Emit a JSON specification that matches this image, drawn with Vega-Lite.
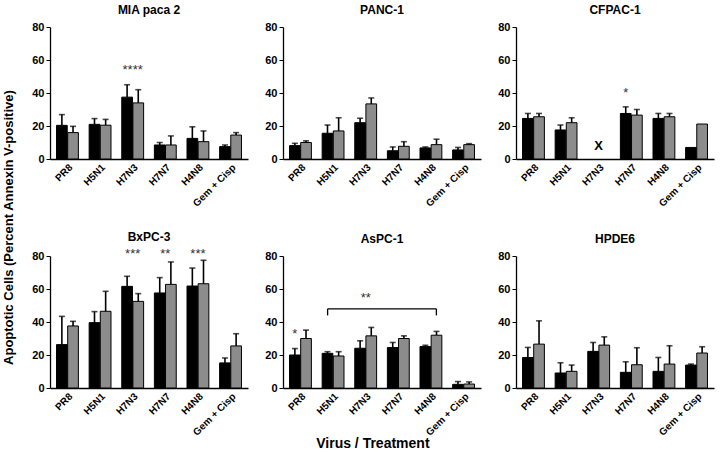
{
  "$schema": "https://vega.github.io/schema/vega-lite/v6.json",
  "datasets": {
    "main": [
      {"kind":"bar","cell":"MIA paca 2","treatment":"PR8","series":"A","mean":20.4,"upper":26.9},
      {"kind":"bar","cell":"MIA paca 2","treatment":"PR8","series":"B","mean":16,"upper":19.8},
      {"kind":"bar","cell":"MIA paca 2","treatment":"H5N1","series":"A","mean":21,"upper":24.5},
      {"kind":"bar","cell":"MIA paca 2","treatment":"H5N1","series":"B","mean":20.5,"upper":24},
      {"kind":"bar","cell":"MIA paca 2","treatment":"H7N3","series":"A","mean":37.5,"upper":45},
      {"kind":"bar","cell":"MIA paca 2","treatment":"H7N3","series":"B","mean":34,"upper":42},
      {"kind":"bar","cell":"MIA paca 2","treatment":"H7N7","series":"A","mean":8.5,"upper":10},
      {"kind":"bar","cell":"MIA paca 2","treatment":"H7N7","series":"B","mean":8.5,"upper":14},
      {"kind":"bar","cell":"MIA paca 2","treatment":"H4N8","series":"A","mean":12.5,"upper":19.5},
      {"kind":"bar","cell":"MIA paca 2","treatment":"H4N8","series":"B","mean":10.5,"upper":17},
      {"kind":"bar","cell":"MIA paca 2","treatment":"Gem + Cisp","series":"A","mean":7.5,"upper":8.5},
      {"kind":"bar","cell":"MIA paca 2","treatment":"Gem + Cisp","series":"B","mean":14.5,"upper":16},

      {"kind":"bar","cell":"PANC-1","treatment":"PR8","series":"A","mean":8.1,"upper":9.5},
      {"kind":"bar","cell":"PANC-1","treatment":"PR8","series":"B","mean":10,"upper":11},
      {"kind":"bar","cell":"PANC-1","treatment":"H5N1","series":"A","mean":15.6,"upper":20.6},
      {"kind":"bar","cell":"PANC-1","treatment":"H5N1","series":"B","mean":17,"upper":25},
      {"kind":"bar","cell":"PANC-1","treatment":"H7N3","series":"A","mean":22,"upper":24.7},
      {"kind":"bar","cell":"PANC-1","treatment":"H7N3","series":"B","mean":33.4,"upper":37},
      {"kind":"bar","cell":"PANC-1","treatment":"H7N7","series":"A","mean":5,"upper":7.3},
      {"kind":"bar","cell":"PANC-1","treatment":"H7N7","series":"B","mean":7.7,"upper":10.5},
      {"kind":"bar","cell":"PANC-1","treatment":"H4N8","series":"A","mean":6.7,"upper":7.3},
      {"kind":"bar","cell":"PANC-1","treatment":"H4N8","series":"B","mean":8.7,"upper":12},
      {"kind":"bar","cell":"PANC-1","treatment":"Gem + Cisp","series":"A","mean":5.5,"upper":7},
      {"kind":"bar","cell":"PANC-1","treatment":"Gem + Cisp","series":"B","mean":8.7,"upper":9.3},

      {"kind":"bar","cell":"CFPAC-1","treatment":"PR8","series":"A","mean":24.6,"upper":27.6},
      {"kind":"bar","cell":"CFPAC-1","treatment":"PR8","series":"B","mean":25.6,"upper":27.6},
      {"kind":"bar","cell":"CFPAC-1","treatment":"H5N1","series":"A","mean":17.6,"upper":20.6},
      {"kind":"bar","cell":"CFPAC-1","treatment":"H5N1","series":"B","mean":22,"upper":25},
      {"kind":"bar","cell":"CFPAC-1","treatment":"H7N7","series":"A","mean":27.6,"upper":31.6},
      {"kind":"bar","cell":"CFPAC-1","treatment":"H7N7","series":"B","mean":26.6,"upper":30},
      {"kind":"bar","cell":"CFPAC-1","treatment":"H4N8","series":"A","mean":24.6,"upper":27.6},
      {"kind":"bar","cell":"CFPAC-1","treatment":"H4N8","series":"B","mean":25.6,"upper":27.6},
      {"kind":"bar","cell":"CFPAC-1","treatment":"Gem + Cisp","series":"A","mean":7,"upper":null},
      {"kind":"bar","cell":"CFPAC-1","treatment":"Gem + Cisp","series":"B","mean":21.2,"upper":null},

      {"kind":"bar","cell":"BxPC-3","treatment":"PR8","series":"A","mean":26.3,"upper":43.4},
      {"kind":"bar","cell":"BxPC-3","treatment":"PR8","series":"B","mean":37.6,"upper":40.4},
      {"kind":"bar","cell":"BxPC-3","treatment":"H5N1","series":"A","mean":39.6,"upper":46.3},
      {"kind":"bar","cell":"BxPC-3","treatment":"H5N1","series":"B","mean":46.5,"upper":58.6},
      {"kind":"bar","cell":"BxPC-3","treatment":"H7N3","series":"A","mean":61.6,"upper":67.7},
      {"kind":"bar","cell":"BxPC-3","treatment":"H7N3","series":"B","mean":52.5,"upper":57.2},
      {"kind":"bar","cell":"BxPC-3","treatment":"H7N7","series":"A","mean":57.6,"upper":66.9},
      {"kind":"bar","cell":"BxPC-3","treatment":"H7N7","series":"B","mean":62.8,"upper":76.4},
      {"kind":"bar","cell":"BxPC-3","treatment":"H4N8","series":"A","mean":61.8,"upper":72.7},
      {"kind":"bar","cell":"BxPC-3","treatment":"H4N8","series":"B","mean":63.2,"upper":77.4},
      {"kind":"bar","cell":"BxPC-3","treatment":"Gem + Cisp","series":"A","mean":15.2,"upper":18.2},
      {"kind":"bar","cell":"BxPC-3","treatment":"Gem + Cisp","series":"B","mean":25.5,"upper":32.9},

      {"kind":"bar","cell":"AsPC-1","treatment":"PR8","series":"A","mean":20,"upper":23.9},
      {"kind":"bar","cell":"AsPC-1","treatment":"PR8","series":"B","mean":30,"upper":35.1},
      {"kind":"bar","cell":"AsPC-1","treatment":"H5N1","series":"A","mean":21,"upper":22},
      {"kind":"bar","cell":"AsPC-1","treatment":"H5N1","series":"B","mean":19.4,"upper":22},
      {"kind":"bar","cell":"AsPC-1","treatment":"H7N3","series":"A","mean":24.1,"upper":28.6},
      {"kind":"bar","cell":"AsPC-1","treatment":"H7N3","series":"B","mean":31.6,"upper":36.7},
      {"kind":"bar","cell":"AsPC-1","treatment":"H7N7","series":"A","mean":24.5,"upper":27.6},
      {"kind":"bar","cell":"AsPC-1","treatment":"H7N7","series":"B","mean":30,"upper":31.6},
      {"kind":"bar","cell":"AsPC-1","treatment":"H4N8","series":"A","mean":25.1,"upper":25.9},
      {"kind":"bar","cell":"AsPC-1","treatment":"H4N8","series":"B","mean":32,"upper":34.3},
      {"kind":"bar","cell":"AsPC-1","treatment":"Gem + Cisp","series":"A","mean":2.2,"upper":3.9},
      {"kind":"bar","cell":"AsPC-1","treatment":"Gem + Cisp","series":"B","mean":2.4,"upper":3.7},

      {"kind":"bar","cell":"HPDE6","treatment":"PR8","series":"A","mean":18.5,"upper":24.6},
      {"kind":"bar","cell":"HPDE6","treatment":"PR8","series":"B","mean":26.6,"upper":40.7},
      {"kind":"bar","cell":"HPDE6","treatment":"H5N1","series":"A","mean":9.1,"upper":15.3},
      {"kind":"bar","cell":"HPDE6","treatment":"H5N1","series":"B","mean":10.1,"upper":13.9},
      {"kind":"bar","cell":"HPDE6","treatment":"H7N3","series":"A","mean":22.2,"upper":27.6},
      {"kind":"bar","cell":"HPDE6","treatment":"H7N3","series":"B","mean":26,"upper":31},
      {"kind":"bar","cell":"HPDE6","treatment":"H7N7","series":"A","mean":9.5,"upper":15.9},
      {"kind":"bar","cell":"HPDE6","treatment":"H7N7","series":"B","mean":14.1,"upper":24.4},
      {"kind":"bar","cell":"HPDE6","treatment":"H4N8","series":"A","mean":10.1,"upper":18.5},
      {"kind":"bar","cell":"HPDE6","treatment":"H4N8","series":"B","mean":14.5,"upper":25.6},
      {"kind":"bar","cell":"HPDE6","treatment":"Gem + Cisp","series":"A","mean":13.9,"upper":14.5},
      {"kind":"bar","cell":"HPDE6","treatment":"Gem + Cisp","series":"B","mean":21.2,"upper":25},

      {"kind":"star","cell":"MIA paca 2","treatment":"H7N3","label":"****","y":54},
      {"kind":"star","cell":"BxPC-3","treatment":"H7N3","label":"***","y":81},
      {"kind":"star","cell":"BxPC-3","treatment":"H7N7","label":"**","y":81},
      {"kind":"star","cell":"BxPC-3","treatment":"H4N8","label":"***","y":81},
      {"kind":"star","cell":"AsPC-1","treatment":"H7N3","label":"**","y":54.5},
      {"kind":"starbar","cell":"CFPAC-1","treatment":"H7N7","series":"A","label":"*","y":40},
      {"kind":"starbar","cell":"AsPC-1","treatment":"PR8","series":"A","label":"*","y":32.5},
      {"kind":"xmark","cell":"CFPAC-1","treatment":"H7N3","label":"X","y":8},
      {"kind":"bracket","cell":"AsPC-1","treatment":"H5N1","treatment2":"H4N8","y":48},
      {"kind":"bracketL","cell":"AsPC-1","treatment":"H5N1","y":44,"y2":48},
      {"kind":"bracketR","cell":"AsPC-1","treatment":"H4N8","y":44,"y2":48}
    ]
  },
  "title": {
    "text": "Apoptotic Cells (Percent Annexin V-positive)",
    "orient": "left",
    "anchor": "middle",
    "font": "Liberation Sans",
    "fontSize": 13,
    "fontWeight": "bold",
    "color": "black",
    "offset": 16
  },
  "hconcat": [
    {
      "data": {"name": "main"},
      "title": {
        "text": "Virus / Treatment",
        "orient": "bottom",
        "anchor": "middle",
        "font": "Liberation Sans",
        "fontSize": 14,
        "fontWeight": "bold",
        "color": "black",
        "offset": 0
      },
      "facet": {
        "field": "cell",
        "type": "nominal",
        "sort": ["MIA paca 2", "PANC-1", "CFPAC-1", "BxPC-3", "AsPC-1", "HPDE6"],
        "header": {
          "title": null,
          "labelFont": "Liberation Sans",
          "labelFontSize": 12,
          "labelFontWeight": "bold",
          "labelColor": "black",
          "labelPadding": 4
        }
      },
      "columns": 3,
      "spacing": {"column": 16, "row": 22},
      "resolve": {"axis": {"x": "independent", "y": "independent"}},
      "spec": {
        "width": 198,
        "height": 132,
        "encoding": {
          "x": {
            "field": "treatment",
            "type": "nominal",
            "scale": {
              "domain": ["PR8", "H5N1", "H7N3", "H7N7", "H4N8", "Gem + Cisp"],
              "paddingInner": 0.33,
              "paddingOuter": 0.2
            },
            "axis": {
              "title": null,
              "labelAngle": -45,
              "ticks": false,
              "labelPadding": 3,
              "labelFontSize": 10
            }
          },
          "y": {
            "field": "mean",
            "type": "quantitative",
            "scale": {"domain": [0, 80], "nice": false},
            "axis": {"title": null, "values": [0, 20, 40, 60, 80], "tickCount": 5, "labelOverlap": false, "tickSize": 4, "labelPadding": 2}
          }
        },
        "layer": [
          {
            "transform": [{"filter": "datum.kind === 'bar'"}],
            "mark": {"type": "bar", "stroke": "black", "strokeWidth": 1},
            "encoding": {
              "xOffset": {"field": "series", "type": "nominal", "scale": {"domain": ["A", "B"], "paddingInner": 0.04}},
              "fill": {
                "field": "series",
                "type": "nominal",
                "scale": {"domain": ["A", "B"], "range": ["#000000", "#8c8c8c"]},
                "legend": null
              }
            }
          },
          {
            "transform": [{"filter": "datum.kind === 'bar' && datum.upper != null"}],
            "mark": {"type": "rule", "color": "black", "strokeWidth": 1.6},
            "encoding": {
              "xOffset": {"field": "series", "type": "nominal"},
              "y2": {"field": "upper"}
            }
          },
          {
            "transform": [{"filter": "datum.kind === 'bar' && datum.upper != null"}],
            "mark": {"type": "tick", "color": "black", "thickness": 1.6, "size": 6},
            "encoding": {
              "xOffset": {"field": "series", "type": "nominal"},
              "y": {"field": "upper", "type": "quantitative", "axis": {"title": null, "values": [0, 20, 40, 60, 80], "tickCount": 5, "labelOverlap": false, "tickSize": 4, "labelPadding": 2}}
            }
          },
          {
            "transform": [{"filter": "datum.kind === 'star'"}],
            "mark": {"type": "text", "font": "Liberation Sans", "fontSize": 13, "color": "#333333", "baseline": "middle"},
            "encoding": {
              "y": {"field": "y", "type": "quantitative", "axis": {"title": null, "values": [0, 20, 40, 60, 80], "tickCount": 5, "labelOverlap": false, "tickSize": 4, "labelPadding": 2}},
              "text": {"field": "label"}
            }
          },
          {
            "transform": [{"filter": "datum.kind === 'starbar'"}],
            "mark": {"type": "text", "font": "Liberation Sans", "fontSize": 13, "color": "#333333", "baseline": "middle"},
            "encoding": {
              "xOffset": {"field": "series", "type": "nominal"},
              "y": {"field": "y", "type": "quantitative", "axis": {"title": null, "values": [0, 20, 40, 60, 80], "tickCount": 5, "labelOverlap": false, "tickSize": 4, "labelPadding": 2}},
              "text": {"field": "label"}
            }
          },
          {
            "transform": [{"filter": "datum.kind === 'xmark'"}],
            "mark": {"type": "text", "font": "Liberation Sans", "fontSize": 13, "fontWeight": "bold", "color": "black", "baseline": "middle"},
            "encoding": {
              "y": {"field": "y", "type": "quantitative", "axis": {"title": null, "values": [0, 20, 40, 60, 80], "tickCount": 5, "labelOverlap": false, "tickSize": 4, "labelPadding": 2}},
              "text": {"field": "label"}
            }
          },
          {
            "transform": [{"filter": "datum.kind === 'bracket'"}],
            "mark": {"type": "rule", "color": "black", "strokeWidth": 1.3},
            "encoding": {
              "x": {"field": "treatment", "type": "nominal", "bandPosition": 0.25},
              "x2": {"field": "treatment2", "bandPosition": 0.75},
              "y": {"field": "y", "type": "quantitative", "axis": {"title": null, "values": [0, 20, 40, 60, 80], "tickCount": 5, "labelOverlap": false, "tickSize": 4, "labelPadding": 2}}
            }
          },
          {
            "transform": [{"filter": "datum.kind === 'bracketL'"}],
            "mark": {"type": "rule", "color": "black", "strokeWidth": 1.3},
            "encoding": {
              "x": {"field": "treatment", "type": "nominal", "bandPosition": 0.25},
              "y": {"field": "y", "type": "quantitative", "axis": {"title": null, "values": [0, 20, 40, 60, 80], "tickCount": 5, "labelOverlap": false, "tickSize": 4, "labelPadding": 2}},
              "y2": {"field": "y2"}
            }
          },
          {
            "transform": [{"filter": "datum.kind === 'bracketR'"}],
            "mark": {"type": "rule", "color": "black", "strokeWidth": 1.3},
            "encoding": {
              "x": {"field": "treatment", "type": "nominal", "bandPosition": 0.75},
              "y": {"field": "y", "type": "quantitative", "axis": {"title": null, "values": [0, 20, 40, 60, 80], "tickCount": 5, "labelOverlap": false, "tickSize": 4, "labelPadding": 2}},
              "y2": {"field": "y2"}
            }
          }
        ]
      }
    }
  ],
  "config": {
    "view": {"stroke": null},
    "padding": {"left": 2, "top": 4, "right": 2, "bottom": 4},
    "axis": {
      "grid": false,
      "domainColor": "black",
      "domainWidth": 1.3,
      "tickColor": "black",
      "labelColor": "black",
      "labelFont": "Liberation Sans",
      "labelFontWeight": "bold",
      "labelFontSize": 11
    }
  }
}
